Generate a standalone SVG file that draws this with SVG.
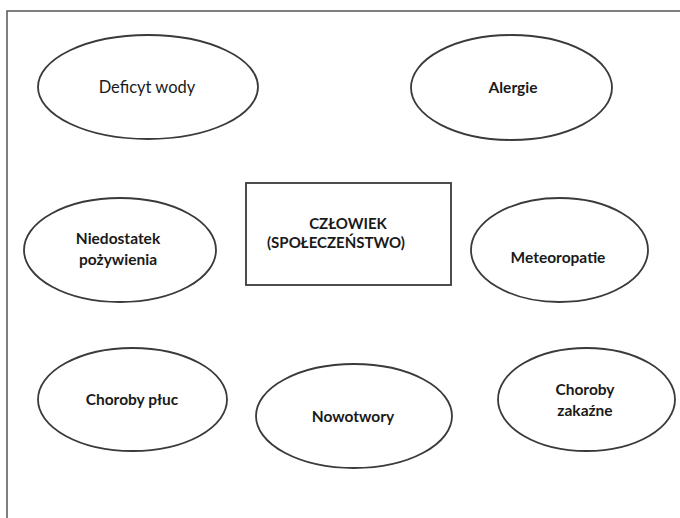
<svg xmlns="http://www.w3.org/2000/svg" width="680" height="518" viewBox="0 0 680 518">
<style>
.shape{fill:#fff;stroke:#3a3a3a;stroke-width:1.8}
.t{font-family:Lato,"Open Sans","Liberation Sans",sans-serif;font-size:15.5px;font-weight:bold;fill:#1a1a1a;text-anchor:middle}
.tn{font-weight:normal;font-size:16.5px}
.big{font-size:15px}
</style>
<rect x="0" y="0" width="680" height="518" fill="#fff"/>
<path d="M7,518 V11 H680" fill="none" stroke="#555" stroke-width="1.5"/>
<g id="connectors"/>
<g id="deficyt-wody">
<ellipse class="shape" cx="148" cy="87" rx="110" ry="52"/>
<text class="t tn" x="147" y="93">Deficyt wody</text>
</g>
<g id="alergie">
<ellipse class="shape" cx="511.5" cy="87.5" rx="100.5" ry="52.5"/>
<text class="t" x="513" y="93">Alergie</text>
</g>
<g id="czlowiek">
<rect class="shape" x="246" y="183" width="205" height="102"/>
<text class="t big" x="348" y="229">CZŁOWIEK</text>
<text class="t big" x="336" y="248">(SPOŁECZEŃSTWO)</text>
</g>
<g id="niedostatek">
<ellipse class="shape" cx="120" cy="250" rx="96" ry="52"/>
<text class="t" x="118" y="244">Niedostatek</text>
<text class="t" x="118" y="265">pożywienia</text>
</g>
<g id="meteoropatie">
<ellipse class="shape" cx="559.5" cy="250" rx="88.5" ry="52"/>
<text class="t" x="558" y="263">Meteoropatie</text>
</g>
<g id="choroby-pluc">
<ellipse class="shape" cx="132.5" cy="399.5" rx="94.5" ry="51.5"/>
<text class="t" x="132" y="405">Choroby płuc</text>
</g>
<g id="nowotwory">
<ellipse class="shape" cx="354" cy="416" rx="98" ry="52"/>
<text class="t" x="353" y="422">Nowotwory</text>
</g>
<g id="choroby-zakazne">
<ellipse class="shape" cx="586.5" cy="399.5" rx="88.5" ry="51.5"/>
<text class="t" x="585" y="395">Choroby</text>
<text class="t" x="585" y="416">zakaźne</text>
</g>
</svg>
